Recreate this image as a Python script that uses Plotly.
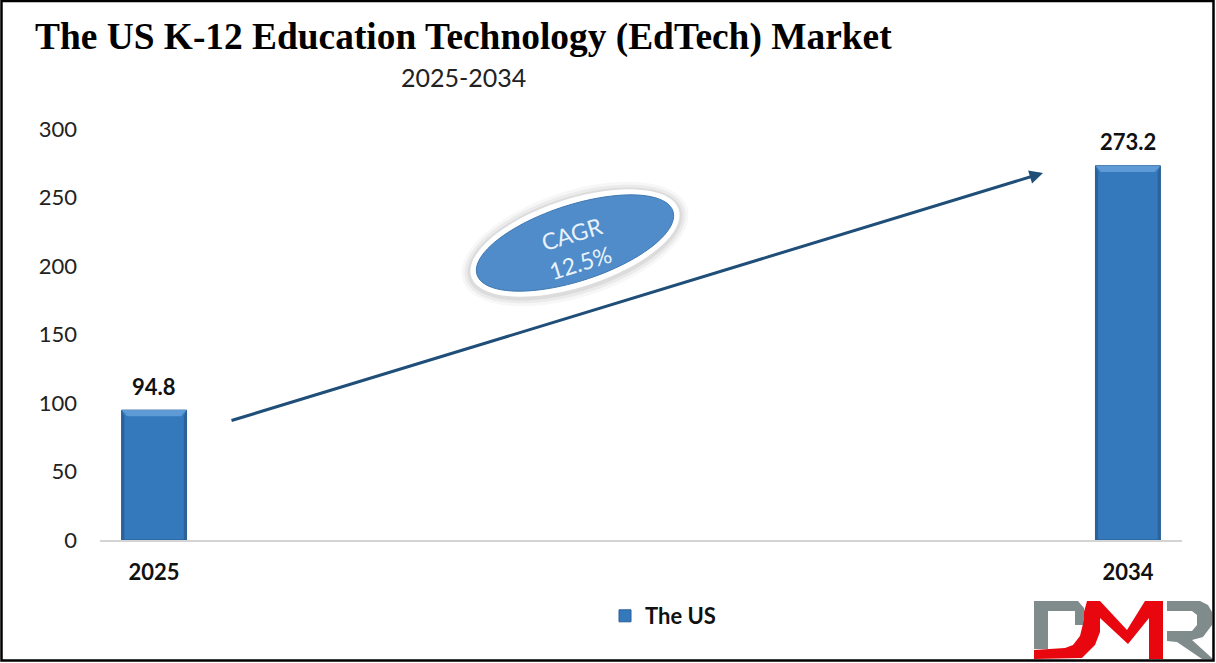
import numpy as np
import plotly.graph_objects as go

W, H = 1216, 663
categories = ["2025", "2026", "2027", "2028", "2029", "2030", "2031", "2032", "2033", "2034"]
values = [94.8, None, None, None, None, None, None, None, None, 273.2]
labels = ["94.8", "", "", "", "", "", "", "", "", "273.2"]
series_name = "The US"
y_ticks = [0, 50, 100, 150, 200, 250, 300]
x_ticks = ["2025", "2034"]
title_text = "The US K-12 Education Technology (EdTech) Market"
subtitle_text = "2025-2034"
cagr_text = "CAGR<br>12.5%"

L, R, T, B = 100, 1182, 129, 540
BAR_W = 0.6


def fx(px):
    return (px - L) / (R - L)


def fy(py):
    return (B - py) / (B - T)


def ellipse(cx, cy, a, b, deg):
    t = np.linspace(0, 2 * np.pi, 90)
    th = np.radians(deg)
    xs = cx + a * np.cos(t) * np.cos(th) - b * np.sin(t) * np.sin(th)
    ys = cy + a * np.cos(t) * np.sin(th) + b * np.sin(t) * np.cos(th)
    return "M" + " L".join(f"{fx(x):.5f},{fy(y):.5f}" for x, y in zip(xs, ys)) + " Z"


def poly(points):
    return "M" + " L".join(f"{fx(x):.5f},{fy(y):.5f}" for x, y in points) + " Z"


fig = go.Figure()
fig.add_bar(
    x=categories, y=values, name=series_name, width=BAR_W,
    marker=dict(color="#3579BD", line=dict(color="#2A5F95", width=1)),
    showlegend=True,
)

shapes = []
annotations = []
# bevel and value label on the bars, derived from the values
for i, v in enumerate(values):
    if v is None:
        continue
    x0, x1 = i - BAR_W / 2, i + BAR_W / 2
    dx, dy, ds = 0.05, 4.5, 0.025
    shapes.append(dict(type="path", xref="x", yref="y", layer="above", line=dict(width=0),
                       fillcolor="#5E9BD6",
                       path=f"M{x0},{v} L{x1},{v} L{x1-dx},{v-dy} L{x0+dx},{v-dy} Z"))
    shapes.append(dict(type="path", xref="x", yref="y", layer="above", line=dict(width=0),
                       fillcolor="#2A6299",
                       path=f"M{x0},0 L{x0},{v} L{x0+ds},{v-dy} L{x0+ds},0 Z"))
    shapes.append(dict(type="path", xref="x", yref="y", layer="above", line=dict(width=0),
                       fillcolor="#2A6299",
                       path=f"M{x1},0 L{x1},{v} L{x1-ds},{v-dy} L{x1-ds},0 Z"))
    annotations.append(dict(xref="x", yref="y", x=i, y=v, yshift=24, text=labels[i],
                            showarrow=False, xanchor="center", yanchor="middle",
                            font=dict(family="Lato", size=22, color="#111111", weight="bold")))

pp = dict(type="path", xref="paper", yref="paper", layer="above")
# soft glow and oval
for a, b, op in [(118, 53, 0.05), (115, 50, 0.07), (112, 47, 0.10)]:
    shapes.append(dict(pp, path=ellipse(575, 244, a, b, -18), fillcolor=f"rgba(90,90,90,{op})", line=dict(width=0)))
shapes.append(dict(pp, path=ellipse(575, 243, 109, 44, -18), fillcolor="#FFFFFF", line=dict(width=0)))
shapes.append(dict(pp, path=ellipse(575, 243, 103, 38, -18), fillcolor="#4F8CC9", line=dict(color="#3F78B0", width=1)))

# logo
GREY, RED = "#7F8C8B", "#E8060F"
shapes.append(dict(pp, fillcolor=GREY, line=dict(width=0), path=poly([
    (1034, 601), (1078, 601), (1084, 608), (1086, 625), (1075, 625), (1075, 611),
    (1048, 611), (1048, 649), (1034, 649)])))
shapes.append(dict(pp, fillcolor=RED, line=dict(width=0), path=poly([
    (1034, 650), (1065, 648), (1073, 645), (1080, 636), (1084, 620), (1084, 612), (1087, 601),
    (1100, 601), (1127, 630), (1145, 601), (1163, 601), (1163, 659), (1149, 659), (1149, 618),
    (1128, 644), (1100, 618), (1100, 632), (1095, 645), (1082, 658), (1034, 659)])))
shapes.append(dict(pp, fillcolor=GREY, line=dict(width=0), path=poly([
    (1167, 601), (1200, 601), (1208, 605), (1212, 612), (1212, 625), (1203, 637), (1192, 640),
    (1213, 659), (1202, 659), (1177, 642), (1167, 641), (1167, 631), (1192, 631), (1197, 625),
    (1197, 615), (1192, 611), (1167, 611)])))
# frame of the picture
shapes.append(dict(pp, path=poly([(1.5, 1), (1213.5, 1), (1213.5, 660.5), (1.5, 660.5)]),
                   fillcolor="rgba(0,0,0,0)", line=dict(color="#000000", width=2.5)))

annotations += [
    dict(xref="paper", yref="paper", x=fx(463), y=fy(77), text=subtitle_text, showarrow=False,
         font=dict(family="Lato", size=25, color="#222222"), xanchor="center", yanchor="middle"),
    dict(xref="paper", yref="paper", axref="pixel", ayref="pixel", x=fx(1043), y=fy(173),
         ax=230 - 1043, ay=421 - 173, text="", showarrow=True, arrowhead=2, arrowsize=0.9,
         arrowwidth=3, arrowcolor="#1F4E79"),
    dict(xref="paper", yref="paper", x=fx(576), y=fy(248), text=cagr_text, showarrow=False,
         xanchor="center", yanchor="middle",
         textangle=-17, align="center", font=dict(family="Lato", size=23, color="#EAF2FA")),
]

fig.update_layout(
    width=W, height=H, autosize=False,
    margin=dict(l=L, r=W - R, t=T, b=H - B),
    paper_bgcolor="#FFFFFF", plot_bgcolor="#FFFFFF",
    title=dict(text=title_text, xref="container", yref="container", x=35 / W, xanchor="left",
               y=1 - 36 / H, yanchor="middle",
               font=dict(family="Liberation Serif", size=37.4, color="#000000", weight="bold")),
    xaxis=dict(type="category", categoryorder="array", categoryarray=categories,
               range=[-0.5, 9.5], tickmode="array", tickvals=x_ticks, ticktext=x_ticks,
               showgrid=False, showline=True, linecolor="#D4D4D4", linewidth=2, ticks="",
               ticklabelstandoff=12, tickfont=dict(family="Lato", size=22, color="#111111", weight="bold")),
    yaxis=dict(range=[0, 300], tickmode="array", tickvals=y_ticks, showgrid=False, zeroline=False,
               showline=False, ticks="", ticklabelstandoff=22,
               tickfont=dict(family="Lato", size=22, color="#222222")),
    legend=dict(x=fx(605), y=fy(616), xanchor="left", yanchor="middle", orientation="h",
                bgcolor="rgba(0,0,0,0)",
                font=dict(family="Lato", size=22, color="#111111", weight="bold")),
    shapes=shapes, annotations=annotations,
)
fig.write_html("out.html", config=dict(displayModeBar=False),
               post_script="document.body.style.margin='0';document.body.style.overflow='hidden';")
